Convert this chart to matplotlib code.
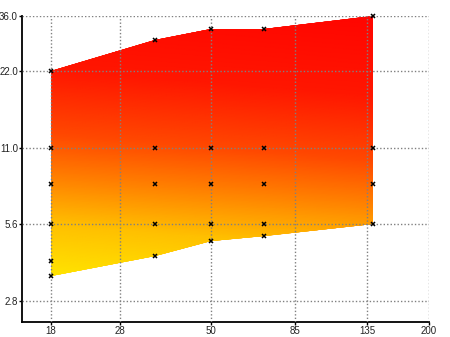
import numpy as np
import matplotlib
matplotlib.use('Agg')
import matplotlib.pyplot as plt
from matplotlib.patches import Polygon
from matplotlib.colors import LinearSegmentedColormap, Normalize
from matplotlib.ticker import FixedLocator, FixedFormatter, NullLocator

plt.rcParams['font.family'] = ['Liberation Sans', 'DejaVu Sans']

# focal lengths (mm) and aperture range
focal = [18, 35, 50, 70, 140]
f_min = [3.5, 4.2, 4.8, 5.0, 5.6]
f_max = [22, 29, 32, 32, 36]

# marked apertures at each focal length
mark_x = [18, 18, 18, 18, 18, 18,
          35, 35, 35, 35, 35,
          50, 50, 50, 50, 50,
          70, 70, 70, 70, 70,
          140, 140, 140, 140]
mark_y = [3.5, 4, 5.6, 8, 11, 22,
          4.2, 5.6, 8, 11, 29,
          4.8, 5.6, 8, 11, 32,
          5.0, 5.6, 8, 11, 32,
          5.6, 8, 11, 36]

x_ticks = [18, 28, 50, 85, 135, 200]
x_labels = ['18', '28', '50', '85', '135', '200']
y_ticks = [2.8, 5.6, 11.0, 22.0, 36.0]
y_labels = ['2.8', '5.6', '11.0', '22.0', '36.0']

fig = plt.figure(figsize=(4.5, 3.37), dpi=100)
ax = fig.add_axes([22/450, 1 - 321.7/337, (429 - 22)/450, (321.7 - 16)/337])
ax.set_xscale('log')
ax.set_yscale('log')
ax.set_xlim(15, 200)
ax.set_ylim(2.33, 36)

# area outline used to clip the gradient
verts = list(zip(focal, f_max)) + list(zip(focal[::-1], f_min[::-1]))
poly = Polygon(verts, closed=True, facecolor='none', edgecolor='none',
               transform=ax.transData)
ax.add_patch(poly)

# yellow (bottom-left) -> red (top) gradient
stops = [(0.0, (1.0, 228/255, 0)), (0.2, (1.0, 192/255, 0)),
         (0.4, (1.0, 122/255, 0)), (0.55, (1.0, 72/255, 0)),
         (0.8, (1.0, 22/255, 0)), (1.1, (1.0, 5/255, 0))]
cmap = LinearSegmentedColormap.from_list(
    'yr', [(p / 1.1, c) for p, c in stops])
gx = np.geomspace(min(focal), max(focal), 200)
gy = np.geomspace(min(f_min), max(f_max), 300)
GX, GY = np.meshgrid(gx, gy)
s = (np.log(GY) - np.log(min(f_min))) / (np.log(max(f_max)) - np.log(min(f_min)))
h = (np.log(GX) - np.log(min(focal))) / (np.log(max(focal)) - np.log(min(focal)))
mesh = ax.pcolormesh(GX, GY, s + 0.1 * h, cmap=cmap, norm=Normalize(0, 1.1),
                     shading='gouraud', zorder=1)
mesh.set_clip_path(poly)

ax.plot(mark_x, mark_y, linestyle='none', marker='x', color='black',
        markersize=3, markeredgewidth=1.1, zorder=4, clip_on=False)

ax.xaxis.set_major_locator(FixedLocator(x_ticks))
ax.xaxis.set_major_formatter(FixedFormatter(x_labels))
ax.xaxis.set_minor_locator(NullLocator())
ax.yaxis.set_major_locator(FixedLocator(y_ticks))
ax.yaxis.set_major_formatter(FixedFormatter(y_labels))
ax.yaxis.set_minor_locator(NullLocator())

ax.grid(True, color='#808080', linestyle=(0, (1, 1.5)), linewidth=1, zorder=3)
ax.set_axisbelow(False)
ax.spines['top'].set_visible(False)
ax.spines['right'].set_visible(False)
ax.spines['left'].set_linewidth(1.3)
ax.spines['bottom'].set_linewidth(1.3)
ax.tick_params(axis='both', direction='out', length=2, width=1,
               labelsize=7, labelcolor='#222222', pad=1)

fig.savefig('out.png', dpi=100)
